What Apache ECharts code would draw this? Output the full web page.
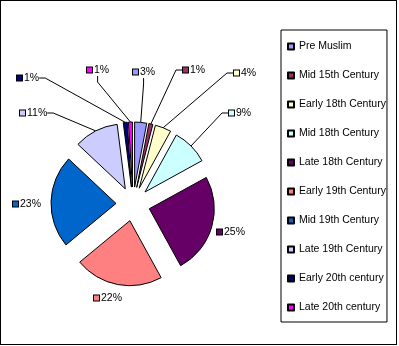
<!DOCTYPE html>
<html>
<head>
<meta charset="utf-8">
<script src="https://cdn.jsdelivr.net/npm/echarts@6/dist/echarts.min.js"></script>
<style>
  html, body { margin: 0; padding: 0; background: #fff; }
  #frame {
    position: absolute; left: 0; top: 0;
    width: 397px; height: 345px;
    box-sizing: border-box; border: 1px solid #000;
  }
  #chart { position: absolute; left: 0; top: 0; width: 399px; height: 346px; }
</style>
</head>
<body>
<div id="chart"></div>
<div id="frame"></div>
<script>
// Share of surviving buildings by period (percent)
const periods = [
  'Pre Muslim', 'Mid 15th Century', 'Early 18th Century', 'Mid 18th Century',
  'Late 18th Century', 'Early 19th Century', 'Mid 19th Century',
  'Late 19th Century', 'Early 20th century', 'Late 20th century'
];
const shares = [3, 1, 4, 9, 25, 22, 23, 11, 1, 1];

// Classic office palette for the slices
const sliceColors = [
  '#9999FF', '#993366', '#FFFFCC', '#CCFFFF', '#660066',
  '#FF8080', '#0066CC', '#CCCCFF', '#000080', '#FF00FF'
];

// Where each percent label sits (left edge of the swatch, vertical middle)
const labelSpots = [
  [133, 72], [183, 70], [234, 73], [229, 113], [217, 232],
  [94, 298], [13, 204], [20, 113], [17, 78], [87, 70]
];
// Labels that sit next to their slice need no leader line
const noLeader = [4, 5, 6];

const font = 'Liberation Sans, Arial, sans-serif';
const CENTER = [133, 204];
const RADIUS = 65;
const EXPLODE = 17;

const chart = echarts.init(document.getElementById('chart'), null, { renderer: 'canvas' });

// Exploded slices
const sliceData = periods.map((name, i) => ({
  name,
  value: shares[i],
  selected: true,
  itemStyle: { color: sliceColors[i] }
}));

// Label carrier: same shares, invisible sectors reaching the exploded rim,
// so leader lines attach to the outer edge of each slice.
const labelData = periods.map((name, i) => ({
  name,
  value: shares[i],
  label: {
    rich: {
      s: { width: 5, height: 5, backgroundColor: sliceColors[i], borderColor: '#000', borderWidth: 1 },
      t: { fontFamily: font, fontSize: 10.5, color: '#000', padding: [0, 0, 0, 2] }
    }
  },
  labelLine: { show: noLeader.indexOf(i) < 0 }
}));

chart.setOption({
  animation: false,
  backgroundColor: '#fff',
  legend: {
    orient: 'vertical',
    left: 281,
    top: 30,
    padding: [10, 1, 8, 6],
    itemGap: 16,
    itemWidth: 6,
    itemHeight: 6,
    icon: 'rect',
    selectedMode: false,
    borderColor: '#000',
    borderWidth: 1,
    textStyle: { fontFamily: font, fontSize: 10.5, color: '#000', lineHeight: 13 },
    data: periods
  },
  series: [{
    type: 'pie',
    center: CENTER,
    radius: RADIUS,
    startAngle: 90,
    clockwise: true,
    selectedMode: 'multiple',
    selectedOffset: EXPLODE,
    silent: true,
    itemStyle: { borderColor: '#000', borderWidth: 1 },
    select: { itemStyle: { borderColor: '#000', borderWidth: 1 } },
    emphasis: { disabled: true },
    label: { show: false },
    labelLine: { show: false },
    data: sliceData
  }, {
    type: 'pie',
    center: CENTER,
    radius: RADIUS + EXPLODE,
    startAngle: 90,
    clockwise: true,
    silent: true,
    avoidLabelOverlap: false,
    itemStyle: { color: 'rgba(0,0,0,0)', borderWidth: 0 },
    emphasis: { disabled: true },
    label: {
      show: true,
      position: 'outside',
      formatter: p => '{s|}{t|' + Math.round(p.percent) + '%}'
    },
    labelLine: {
      show: true,
      length: 10,
      length2: 6,
      lineStyle: { color: '#000', width: 1 }
    },
    labelLayout: p => ({
      x: labelSpots[p.dataIndex][0],
      y: labelSpots[p.dataIndex][1],
      align: 'left',
      verticalAlign: 'middle'
    }),
    data: labelData
  }]
});
</script>
</body>
</html>
